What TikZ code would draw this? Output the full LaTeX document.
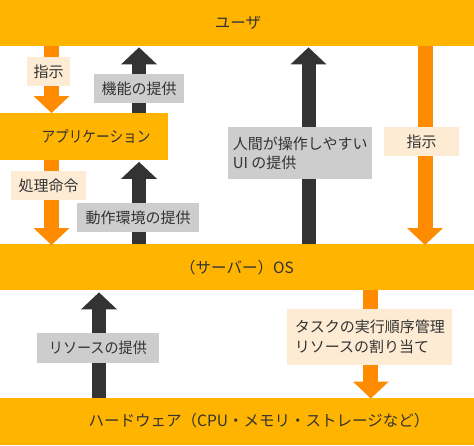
\documentclass[tikz,border=0pt]{standalone}
\usepackage{fontspec}
\usepackage{graphicx}
\setmainfont{Noto Sans CJK JP}
\usetikzlibrary{arrows.meta}
\definecolor{bandc}{HTML}{FFB400}
\definecolor{arrO}{HTML}{FF8C00}
\definecolor{peach}{HTML}{FDEBD3}
\definecolor{lgray}{HTML}{CDCDCD}
\definecolor{darkar}{HTML}{333333}
\definecolor{txt}{HTML}{333333}
\tikzset{
  bandbox/.style={fill=bandc, draw=none, inner sep=0pt, anchor=north west},
  bandtxt/.style={text=txt, inner sep=0pt, font=\fontsize{15.5}{18}\selectfont},
  oarrow/.style={draw=arrO, line width=15pt, -{Triangle[width=36pt,length=17pt,line width=0pt]}},
  darrow/.style={draw=darkar, line width=14pt, -{Triangle[width=36pt,length=17pt,line width=0pt]}},
  lblo/.style={fill=peach, text=txt, inner sep=0pt, align=left, font=\fontsize{15}{19.5}\selectfont},
  lblg/.style={fill=lgray, text=txt, inner sep=0pt, align=left, font=\fontsize{15}{19.5}\selectfont},
}
\begin{document}
\begin{tikzpicture}[x=1pt,y=-1pt]
\useasboundingbox (0,0) rectangle (474,445);
% bands
\node[bandbox, minimum width=474pt, minimum height=46pt] (user) at (0,0) {};
\node[bandbox, minimum width=168pt, minimum height=47pt] (app) at (0,113) {};
\node[bandbox, minimum width=474pt, minimum height=46pt] (os) at (0,244) {};
\node[bandbox, minimum width=474pt, minimum height=47pt] (hw) at (0,398) {};
\node[bandtxt] (tuser) at (238,23) {ユーザ};
\node[bandtxt] (tapp) at (96,136.5) {\scalebox{0.88}[1]{アプリケーション}};
\node[bandtxt] (tos) at (237,268) {（サーバー）OS};
\node[bandtxt] (thw) at (259,421) {ハードウェア（CPU・メモリ・ストレージなど）};
% arrow x positions
\coordinate (xa) at (51.5,0);
\coordinate (xb) at (139,0);
\coordinate (xc) at (308.5,0);
\coordinate (xd) at (425,0);
\coordinate (xe) at (99,0);
\coordinate (xf) at (370.8,0);
% arrows
\draw[oarrow] (xa |- user.south) -- (xa |- app.north);
\draw[darrow] (xb |- app.north) -- ([yshift=-1pt]xb |- user.south);
\draw[darrow] (xc |- os.north) -- ([yshift=-1pt]xc |- user.south);
\draw[oarrow] (xd |- user.south) -- ([yshift=-1pt]xd |- os.north);
\draw[oarrow] (xa |- app.south) -- ([yshift=-1pt]xa |- os.north);
\draw[darrow] (xb |- os.north) -- ([yshift=-1.5pt]xb |- app.south);
\draw[darrow] (xe |- hw.north) -- ([yshift=-2pt]xe |- os.south);
\draw[oarrow] (xf |- os.south) -- ([yshift=-0.5pt]xf |- hw.north);
% labels
\node[lblo, minimum width=43pt, minimum height=29pt] (l1) at (48.5,71.5) {指示};
\node[lblg, minimum width=90pt, minimum height=29pt] (l2) at (139,88.5) {機能の提供};
\node[lblg, minimum width=144pt, minimum height=52.6pt] (l3) at (300.3,153) {人間が操作しやすい\\UI の提供};
\node[lblo, minimum width=75pt, minimum height=29.3pt] (l4) at (421.5,141.3) {指示};
\node[lblo, minimum width=75pt, minimum height=29.3pt] (l5) at (48.5,185.3) {処理命令};
\node[lblg, minimum width=122pt, minimum height=29pt] (l6) at (138,217.5) {動作環境の提供};
\node[lblg, minimum width=122.3pt, minimum height=29.7pt] (l7) at (97.9,347.8) {\scalebox{0.94}[1]{リソースの提供}};
\node[lblo, minimum width=165pt, minimum height=56pt] (l8) at (369.8,337) {タスクの実行順序管理\\リソースの割り当て};
\end{tikzpicture}
\end{document}
